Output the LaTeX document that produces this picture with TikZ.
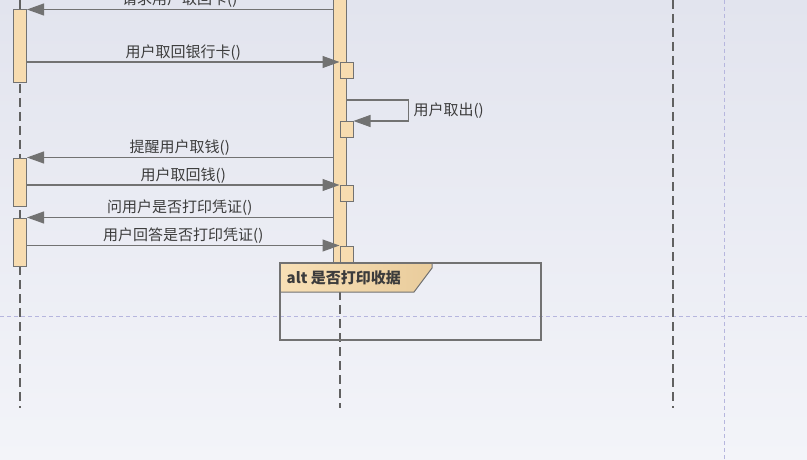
\documentclass[tikz,border=0pt]{standalone}
\usepackage{fontspec}
\newfontfamily\cjk{Noto Sans CJK SC}
\usetikzlibrary{arrows.meta, positioning, calc}
\definecolor{barfill}{HTML}{F7DCB0}
\definecolor{edgegray}{HTML}{727272}
\definecolor{guide}{HTML}{B6B6DE}
\definecolor{bgtop}{HTML}{E2E4EE}
\definecolor{bgbot}{HTML}{F3F4F9}
\definecolor{txtgray}{HTML}{3C3C3C}
\definecolor{tabl}{HTML}{F8E0B6}
\definecolor{tabr}{HTML}{E9CC9C}

\begin{document}
\begin{tikzpicture}[x=1pt, y=-1pt,
  act/.style={draw=edgegray, fill=barfill, line width=1pt, inner sep=0pt, minimum width=13pt},
  msg/.style={draw=edgegray, line width=1.1pt, -{Triangle[length=17pt, width=12pt]}},
  lbl/.style={font=\cjk\fontsize{15}{17}\selectfont, text=txtgray, inner sep=1.5pt},
  lifeln/.style={draw=black!62, line width=1.2pt, dash pattern=on 9pt off 5pt},
  pageguide/.style={draw=guide, line width=0.9pt, dash pattern=on 4pt off 3pt}]
  % canvas 807 x 460, y grows downwards
  \useasboundingbox (0,0) rectangle (807,460);
  \shade[top color=bgtop, bottom color=bgbot] (0,0) rectangle (807,460);
  % page break guides
  \draw[pageguide] (0,316) -- (807,316);
  \draw[pageguide] (724,0) -- (724,460);
  % lifelines
  \draw[lifeln] (20,0) -- (20,408);
  \draw[lifeln] (340,263) -- (340,408);
  \draw[lifeln] (673,0) -- (673,408);
  % activations: user (left)
  \node[act, minimum height=73pt] (ua1) at (20,46.5) {};
  \node[act, minimum height=48pt] (ua2) at (20,182) {};
  \node[act, minimum height=48pt] (ua3) at (20,242) {};
  % activations: ATM (middle)
  \node[act, minimum height=268pt] (atm) at (339.5,129) {};
  \foreach \n/\y in {b1/70.5, b2/129.5, b3/193.5, b4/254} {
    \node[act, minimum height=16pt] (\n) at (346.5,\y) {};
  }
  % messages
  \draw[msg] (atm.west |- ua1.north) -- (ua1.north east)
    node[lbl, midway, above] {请求用户取回卡()};
  \draw[msg] (ua1.east |- b1.north) -- (b1.north west)
    node[lbl, midway, above] {用户取回银行卡()};
  \coordinate (selfout) at (atm.east |- 0,100);
  \draw[msg] (selfout) -- ++(62,0) |- (b2.north east)
    node[lbl, pos=0.25, right=3pt] {用户取出()};
  \draw[msg] (atm.west |- ua2.north) -- (ua2.north east)
    node[lbl, midway, above] {提醒用户取钱()};
  \draw[msg] (ua2.east |- b3.north) -- (b3.north west)
    node[lbl, midway, above] {用户取回钱()};
  \draw[msg] (atm.west |- ua3.north) -- (ua3.north east)
    node[lbl, midway, above] {问用户是否打印凭证()};
  \draw[msg] (ua3.east |- b4.north) -- (b4.north west)
    node[lbl, midway, above] {用户回答是否打印凭证()};
  % alt fragment
  \shade[left color=tabl, right color=tabr] (280,263) -- (432,263) -- (432,268) -- (414,292) -- (280,292) -- cycle;
  \draw[edgegray, line width=1pt] (432,263) -- (432,268) -- (414,292) -- (280,292);
  \draw[edgegray, line width=1.6pt] (280,263) rectangle (541,340);
  \node[lbl, anchor=west, font=\cjk\bfseries\fontsize{15}{17}\selectfont] (altlbl) at (285,278) {alt 是否打印收据};
\end{tikzpicture}
\end{document}
